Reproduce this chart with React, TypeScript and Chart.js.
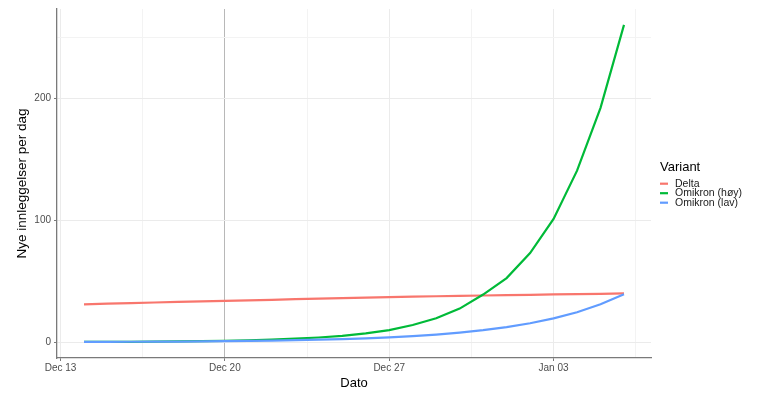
import React, { useEffect, useRef } from 'react';
import { Chart, registerables } from 'chart.js';

Chart.register(...registerables);

// ---- Data ----
const dates = [
  '2021-12-14', '2021-12-15', '2021-12-16', '2021-12-17', '2021-12-18', '2021-12-19',
  '2021-12-20', '2021-12-21', '2021-12-22', '2021-12-23', '2021-12-24', '2021-12-25',
  '2021-12-26', '2021-12-27', '2021-12-28', '2021-12-29', '2021-12-30', '2021-12-31',
  '2022-01-01', '2022-01-02', '2022-01-03', '2022-01-04', '2022-01-05', '2022-01-06',
];
const deltaValues = [
  31.0, 31.5, 32.0, 32.5, 33.0, 33.4, 33.8, 34.3, 34.7, 35.2, 35.6, 36.0,
  36.5, 36.9, 37.3, 37.6, 37.9, 38.2, 38.5, 38.8, 39.1, 39.4, 39.6, 39.9,
];
const omikronHoyValues = [
  0.15, 0.21, 0.29, 0.4, 0.55, 0.76, 1.05, 1.45, 2.0, 2.8, 3.8, 5.2,
  7.2, 9.8, 14.0, 19.6, 27.5, 39.0, 52.5, 73.0, 101.0, 140.5, 192.0, 260.0,
];
const omikronLavValues = [
  0.2, 0.25, 0.3, 0.4, 0.5, 0.6, 0.8, 1.0, 1.25, 1.6, 2.0, 2.5,
  3.1, 3.9, 4.9, 6.2, 7.8, 9.8, 12.3, 15.5, 19.5, 24.5, 31.0, 39.2,
];
const seriesLabels = ['Delta', 'Omikron (høy)', 'Omikron (lav)'];
const seriesColors = ['#F8766D', '#00BA38', '#619CFF'];
const xTickDates = ['2021-12-13', '2021-12-20', '2021-12-27', '2022-01-03'];
const xTickLabels = ['Dec 13', 'Dec 20', 'Dec 27', 'Jan 03'];
const yTickValues = [0, 100, 200];
const yMinorTickValues = [250];
const markerDate = '2021-12-20';
const legendTitle = 'Variant';
const xTitle = 'Dato';
const yTitle = 'Nye innleggelser per dag';

const FONT = '"Liberation Sans", Arial, Helvetica, sans-serif';
const DAY = 86400000;
const ORIGIN = Date.parse(xTickDates[0] + 'T00:00:00Z');
const dayOf = (s: string) => (Date.parse(s + 'T00:00:00Z') - ORIGIN) / DAY;

const xMajor = xTickDates.map(dayOf);
const markerDay = dayOf(markerDate);

export default function App() {
  const ref = useRef<HTMLCanvasElement | null>(null);

  useEffect(() => {
    if (!ref.current) return;
    const xs = dates.map(dayOf);
    const allY = [...deltaValues, ...omikronHoyValues, ...omikronLavValues];
    const xFirst = Math.min(...xs), xLast = Math.max(...xs);
    const yLo = Math.min(0, ...allY), yHi = Math.max(...allY);
    const xSpan = xLast - xFirst, ySpan = yHi - yLo;
    const xMin = xFirst - 0.05 * xSpan, xMax = xLast + 0.05 * xSpan;
    const yMin = yLo - 0.05 * ySpan, yMax = yHi + 0.05 * ySpan;

    const step = xMajor[1] - xMajor[0];
    const xMinor: number[] = [];
    for (const v of [...xMajor, xMajor[xMajor.length - 1] + step]) {
      const m = v - step / 2;
      if (m > xMin && m < xMax) xMinor.push(m);
    }
    const xAll = [...xMajor, ...xMinor].sort((a, b) => a - b);
    const yAll = [...yTickValues, ...yMinorTickValues].sort((a, b) => a - b);

    const seriesValues = [deltaValues, omikronHoyValues, omikronLavValues];
    const datasets = seriesValues.map((vals, i) => ({
      label: seriesLabels[i],
      data: vals.map((v, j) => ({ x: xs[j], y: v })),
      borderColor: seriesColors[i],
      backgroundColor: seriesColors[i],
      borderWidth: 2.2,
      pointRadius: 0,
      tension: 0,
      fill: false,
      order: seriesValues.length - 1 - i,
    }));

    const legendPlugin = {
      id: 'ggLegend',
      afterDraw(chart: any) {
        const { ctx, chartArea } = chart;
        const x0 = chartArea.right + 9;
        const cy = (chartArea.top + chartArea.bottom) / 2;
        ctx.save();
        ctx.textAlign = 'left';
        ctx.textBaseline = 'middle';
        ctx.fillStyle = '#000';
        ctx.font = `13px ${FONT}`;
        ctx.fillText(legendTitle, x0, cy - 16.5);
        ctx.font = `10.5px ${FONT}`;
        chart.data.datasets.forEach((ds: any, i: number) => {
          const y = cy + 0.2 + i * 9.5;
          ctx.strokeStyle = ds.borderColor;
          ctx.lineWidth = 2.2;
          ctx.beginPath();
          ctx.moveTo(x0, y);
          ctx.lineTo(x0 + 8, y);
          ctx.stroke();
          ctx.fillStyle = '#1a1a1a';
          ctx.fillText(ds.label, x0 + 15, y);
        });
        ctx.restore();
      },
    };

    const isMajorX = (v: number) => xMajor.some((m) => Math.abs(m - v) < 1e-6);
    const isMajorY = (v: number) => yTickValues.includes(v);

    const chart = new Chart(ref.current, {
      type: 'line',
      data: { datasets },
      plugins: [legendPlugin],
      options: {
        animation: false,
        responsive: false,
        layout: { padding: { top: 7, right: 109, left: 0, bottom: 0 } },
        plugins: {
          legend: { display: false },
          tooltip: { enabled: false },
        },
        scales: {
          x: {
            type: 'linear',
            min: xMin,
            max: xMax,
            afterBuildTicks: (axis: any) => {
              axis.ticks = xAll.map((v) => ({ value: v }));
            },
            afterFit: (axis: any) => {
              axis.height = 36;
            },
            ticks: {
              autoSkip: false,
              maxRotation: 0,
              padding: 1,
              color: '#4d4d4d',
              font: { family: FONT, size: 10 },
              callback: (v: any) => {
                const idx = xMajor.findIndex((m) => Math.abs(m - Number(v)) < 1e-6);
                return idx >= 0 ? xTickLabels[idx] : '';
              },
            },
            grid: {
              drawTicks: true,
              tickLength: 3,
              color: (c: any) => {
                const v = c.tick ? c.tick.value : NaN;
                if (Math.abs(v - markerDay) < 1e-6) return '#b8b8b8';
                return isMajorX(v) ? '#ebebeb' : '#f3f3f3';
              },
              tickColor: (c: any) => {
                const v = c.tick ? c.tick.value : NaN;
                return isMajorX(v) ? '#7a7a7a' : 'rgba(0,0,0,0)';
              },
              lineWidth: 1,
            },
            border: { display: true, color: '#7a7a7a', width: 1.3 },
            title: {
              display: true,
              text: xTitle,
              color: '#000',
              font: { family: FONT, size: 13 },
              padding: { top: 0, bottom: 3 },
            },
          },
          y: {
            type: 'linear',
            min: yMin,
            max: yMax,
            afterBuildTicks: (axis: any) => {
              axis.ticks = yAll.map((v) => ({ value: v }));
            },
            afterFit: (axis: any) => {
              axis.width = 57;
            },
            ticks: {
              autoSkip: false,
              padding: 3,
              color: '#4d4d4d',
              font: { family: FONT, size: 10 },
              callback: (v: any) => (isMajorY(Number(v)) ? String(v) : ''),
            },
            grid: {
              drawTicks: true,
              tickLength: 3,
              color: (c: any) => {
                const v = c.tick ? c.tick.value : NaN;
                return isMajorY(v) ? '#ebebeb' : '#f3f3f3';
              },
              tickColor: (c: any) => {
                const v = c.tick ? c.tick.value : NaN;
                return isMajorY(v) ? '#7a7a7a' : 'rgba(0,0,0,0)';
              },
              lineWidth: 1,
            },
            border: { display: true, color: '#7a7a7a', width: 1.3 },
            title: {
              display: true,
              text: yTitle,
              color: '#000',
              font: { family: FONT, size: 13.5 },
              padding: { top: 14, bottom: 0 },
            },
          },
        },
      } as any,
    });
    return () => chart.destroy();
  }, []);

  return (
    <div style={{ position: 'absolute', left: 0, top: 0, width: 760, height: 394, background: '#fff' }}>
      <canvas ref={ref} width={760} height={394} style={{ display: 'block', width: 760, height: 394 }} />
    </div>
  );
}
